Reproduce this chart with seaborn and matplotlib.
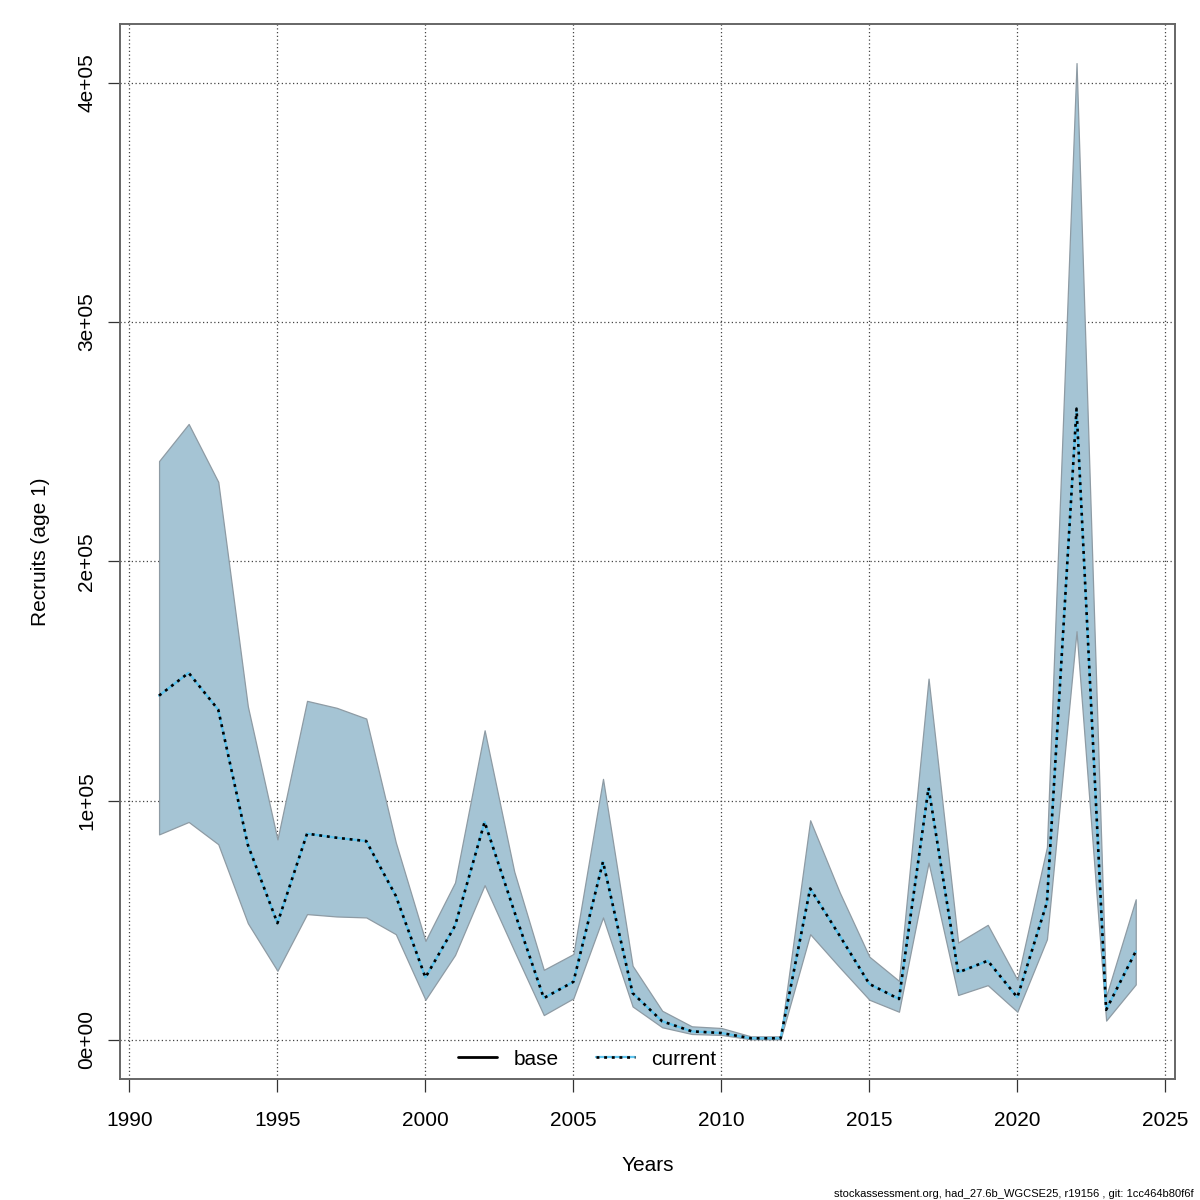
import matplotlib
matplotlib.use("Agg")
import matplotlib.pyplot as plt
from matplotlib.lines import Line2D
import seaborn as sns
import pandas as pd

# Recruitment estimates (age 1)
years = list(range(1991, 2025))
current = [143.9e3, 153.4e3, 138.0e3, 81.5e3, 48.8e3, 86.2e3, 84.5e3, 83.1e3, 60.2e3, 26.1e3,
           47.7e3, 91.1e3, 53.8e3, 17.5e3, 24.3e3, 74.5e3, 19.6e3, 7.8e3, 3.6e3, 2.9e3,
           0.7e3, 0.7e3, 63.3e3, 43.5e3, 23.4e3, 17.1e3, 105.4e3, 28.2e3, 33.1e3, 17.8e3,
           57.5e3, 263.8e3, 12.6e3, 37.0e3]
upper = [241.9e3, 257.4e3, 233.2e3, 139.4e3, 83.8e3, 141.7e3, 138.8e3, 134.3e3, 82.5e3, 41.4e3,
         65.8e3, 129.4e3, 70.4e3, 29.3e3, 35.9e3, 109.1e3, 31.0e3, 12.2e3, 5.7e3, 5.0e3,
         1.5e3, 1.5e3, 91.8e3, 61.6e3, 34.8e3, 24.7e3, 151.0e3, 40.7e3, 48.1e3, 25.2e3,
         80.6e3, 408.2e3, 18.2e3, 58.8e3]
lower = [85.9e3, 91.1e3, 81.8e3, 48.8e3, 28.9e3, 52.6e3, 51.6e3, 51.2e3, 44.2e3, 16.8e3,
         35.5e3, 64.7e3, 37.3e3, 10.4e3, 17.4e3, 51.2e3, 14.0e3, 5.3e3, 2.5e3, 2.1e3,
         0.3e3, 0.3e3, 44.2e3, 30.3e3, 16.8e3, 11.8e3, 74.1e3, 18.8e3, 22.9e3, 11.8e3,
         42.1e3, 170.8e3, 8.1e3, 23.2e3]

x_ticks = [1990, 1995, 2000, 2005, 2010, 2015, 2020, 2025]
y_ticks = [0, 1e5, 2e5, 3e5, 4e5]
y_tick_labels = ["0e+00", "1e+05", "2e+05", "3e+05", "4e+05"]
legend_labels = ["base", "current"]
footnote = "stockassessment.org, had_27.6b_WGCSE25, r19156 , git: 1cc464b80f6f"

df = pd.DataFrame({"Years": years, "current": current, "lower": lower, "upper": upper})

sns.set_style("white")
plt.rcParams["font.family"] = ["Liberation Sans", "DejaVu Sans"]
plt.rcParams.update({"text.color": "black", "axes.labelcolor": "black",
                     "xtick.color": "black", "ytick.color": "black"})

fig = plt.figure(figsize=(12, 12), dpi=100)
ax = fig.add_axes([0.1, 0.1008, 0.879, 0.8792])

# confidence band
ax.fill_between(df["Years"], df["lower"], df["upper"], facecolor="#a5c4d4",
                edgecolor="#8e9ba4", linewidth=0.9, zorder=2)

# current estimate: light blue line with black dots on top
sns.lineplot(data=df, x="Years", y="current", ax=ax, color="#5ec4ee", linewidth=1.6,
             zorder=3, legend=False)
sns.lineplot(data=df, x="Years", y="current", ax=ax, color="black", linewidth=1.9,
             linestyle=(0, (1.1, 1.8)), zorder=4, legend=False)

# R-style axis ranges (4% padding)
xr = max(years) - min(years)
ax.set_xlim(min(years) - 0.04 * xr, max(years) + 0.04 * xr)
yr = max(upper) - 0
ax.set_ylim(0 - 0.04 * yr, max(upper) + 0.04 * yr)

ax.set_xticks(x_ticks)
ax.set_yticks(y_ticks)
ax.set_yticklabels(y_tick_labels, rotation=90, va="center")
ax.tick_params(axis="both", direction="out", length=9, width=0.9, color="#333333",
               labelsize=15, labelcolor="black", left=True, bottom=True)
ax.tick_params(axis="x", pad=14)
ax.tick_params(axis="y", pad=8)

ax.grid(True, color="#444444", linestyle=(0, (1, 2)), linewidth=0.9, zorder=1)
ax.set_axisbelow(True)

for s in ax.spines.values():
    s.set_color("#666666")
    s.set_linewidth(1.4)

ax.set_xlabel("Years", fontsize=15, labelpad=19, color="black")
ax.set_ylabel("Recruits (age 1)", fontsize=15, labelpad=20, color="black")

base_handle = Line2D([], [], color="black", linewidth=2.0)
cur_blue = Line2D([], [], color="#5ec4ee", linewidth=1.6)
cur_dot = Line2D([], [], color="black", linewidth=1.9, linestyle=(0, (1.1, 1.8)))
ax.legend([base_handle, (cur_blue, cur_dot)], legend_labels, loc="lower center",
          bbox_to_anchor=(0.443, -0.008), ncol=2, frameon=False, fontsize=15,
          handlelength=1.85, columnspacing=1.8, handletextpad=0.8)

fig.text(0.995, 0.001, footnote, ha="right", va="bottom", fontsize=8, color="black")

fig.savefig("out.png", dpi=100)
